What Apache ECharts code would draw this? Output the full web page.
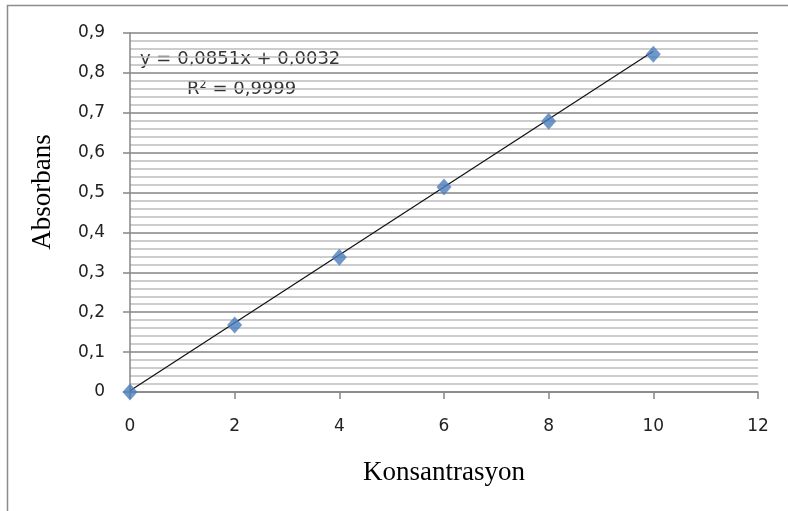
<!DOCTYPE html>
<html>
<head>
<meta charset="utf-8">
<script src="https://cdn.jsdelivr.net/npm/echarts@6/dist/echarts.min.js"></script>
<style>html,body{margin:0;padding:0;background:#fff}#c{width:788px;height:511px}</style>
</head>
<body>
<div id="c"></div>
<script>
var concentration = [0, 2, 4, 6, 8, 10];
var absorbance = [0, 0.168, 0.338, 0.514, 0.679, 0.847];
var trendX = [0, 10];
var trendY = [0.0032, 0.8542];
var xTicks = [0, 2, 4, 6, 8, 10, 12];
var yTicks = [0, 0.1, 0.2, 0.3, 0.4, 0.5, 0.6, 0.7, 0.8, 0.9];
var equationText = 'y = 0,0851x + 0,0032';
var r2Text = 'R² = 0,9999';
var xTitle = 'Konsantrasyon';
var yTitle = 'Absorbans';

var chart = echarts.init(document.getElementById('c'));
chart.setOption({
  animation: false,
  backgroundColor: '#fff',
  graphic: [
    { type: 'rect', shape: { x: 7.5, y: 5.5, width: 800, height: 530 }, style: { fill: 'none', stroke: '#8c8c8c', lineWidth: 1.5 }, z: -1 },
    { type: 'text', left: 140, top: 50, style: { text: equationText, font: '18px "DejaVu Sans"', fill: '#333' } },
    { type: 'text', left: 187, top: 80, style: { text: r2Text, font: '18px "DejaVu Sans"', fill: '#333' } },
    { type: 'text', x: 43, y: 192, rotation: Math.PI / 2,
      style: { text: yTitle, font: '27px "Liberation Serif"', fill: '#000', align: 'center', verticalAlign: 'middle' } }
  ],
  grid: { left: 130, right: 30, top: 33, bottom: 119 },
  xAxis: {
    type: 'value', min: xTicks[0], max: xTicks[xTicks.length - 1], interval: 2,
    name: xTitle, nameLocation: 'middle', nameGap: 67,
    nameTextStyle: { fontFamily: 'Liberation Serif', fontSize: 27, color: '#000' },
    axisLine: { lineStyle: { color: '#868686', width: 1.5 } },
    axisTick: { length: 7, lineStyle: { color: '#868686', width: 1.5 } },
    axisLabel: { margin: 26, fontFamily: 'DejaVu Sans', fontSize: 17, color: '#222' },
    splitLine: { show: false }
  },
  yAxis: {
    type: 'value', min: yTicks[0], max: yTicks[yTicks.length - 1], interval: 0.1,
    axisLine: { show: true, lineStyle: { color: '#868686', width: 1.5 } },
    axisTick: { show: true, length: 7, lineStyle: { color: '#868686', width: 1.5 } },
    axisLabel: { margin: 25, fontFamily: 'DejaVu Sans', fontSize: 17, color: '#222',
      formatter: function (v) { return (Math.round(v * 10) / 10).toString().replace('.', ','); } },
    splitLine: { show: true, lineStyle: { color: '#858585', width: 1.5 } },
    minorTick: { show: false, splitNumber: 5 },
    minorSplitLine: { show: true, lineStyle: { color: '#bdbdbd', width: 1.5 } }
  },
  series: [
    {
      type: 'line', data: trendX.map(function (x, i) { return [x, trendY[i]]; }),
      showSymbol: false, symbol: 'none', lineStyle: { color: '#111', width: 1.2 }, z: 2
    },
    {
      type: 'scatter', data: concentration.map(function (x, i) { return [x, absorbance[i]]; }),
      symbol: 'diamond', symbolSize: [15, 17], itemStyle: { color: '#4a7ebb' }, z: 3
    }
  ]
});
</script>
</body>
</html>
